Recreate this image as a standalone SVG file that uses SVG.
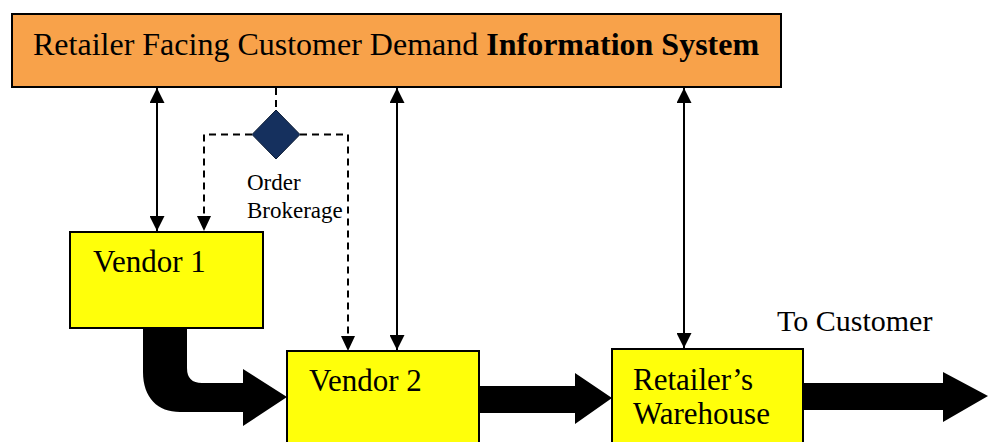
<svg xmlns="http://www.w3.org/2000/svg" width="988" height="442" viewBox="0 0 988 442">
<defs>
<style>
.box{fill:#FFFF0A;stroke:#000;stroke-width:2}
.bar{fill:#F8A24A;stroke:#000;stroke-width:2}
.t{font-family:"Liberation Serif","Times New Roman",serif;fill:#000}
.ln{stroke:#000;stroke-width:2;fill:none}
.dash{stroke:#000;stroke-width:2;fill:none;stroke-dasharray:7,5}
.thick{fill:#000}
</style>
<marker id="ah" viewBox="0 0 10 10" refX="10" refY="5" markerWidth="8" markerHeight="8" markerUnits="userSpaceOnUse" orient="auto-start-reverse">
<path d="M0,0 L10,5 L0,10 Z" fill="#000"/>
</marker>
<marker id="ahb" viewBox="0 0 10 10" refX="10" refY="5" markerWidth="15" markerHeight="15" markerUnits="userSpaceOnUse" orient="auto-start-reverse">
<path d="M0,0 L10,5 L0,10 Z" fill="#000"/>
</marker>
</defs>
<rect width="988" height="442" fill="#fff"/>
<g id="info-system">
<rect class="bar" x="12" y="14" width="769" height="73"/>
<text class="t" x="33" y="55" font-size="32">Retailer Facing Customer Demand <tspan font-weight="bold">Information System</tspan></text>
</g>
<g id="vendor1">
<rect class="box" x="70" y="232" width="193" height="96"/>
<text class="t" x="93" y="272" font-size="31">Vendor 1</text>
</g>
<g id="vendor2">
<rect class="box" x="287" y="351" width="192" height="100"/>
<text class="t" x="309" y="391" font-size="31">Vendor 2</text>
</g>
<g id="warehouse">
<rect class="box" x="612" y="349" width="191" height="102"/>
<text class="t" x="633" y="390" font-size="31">Retailer’s</text>
<text class="t" x="633" y="424" font-size="31">Warehouse</text>
</g>
<g id="order-brokerage">
<path d="M276,110 L300,134.5 L276,159 L252,134.5 Z" fill="#15305E" stroke="#0a1a33" stroke-width="1"/>
<text class="t" x="247" y="190" font-size="23">Order</text>
<text class="t" x="247" y="218" font-size="23">Brokerage</text>
</g>
<g id="to-customer-label">
<text class="t" x="777" y="331" font-size="30">To Customer</text>
</g>
<g id="connectors">
<line class="ln" x1="157" y1="88" x2="157" y2="231" marker-start="url(#ahb)" marker-end="url(#ahb)"/>
<line class="ln" x1="397" y1="88" x2="397" y2="350" marker-start="url(#ahb)" marker-end="url(#ahb)"/>
<line class="ln" x1="684" y1="88" x2="684" y2="348" marker-start="url(#ahb)" marker-end="url(#ahb)"/>
<line class="dash" x1="276" y1="88" x2="276" y2="110"/>
<path class="dash" d="M252,134.5 H204 V216"/>
<path class="dash" d="M300,134.5 H348 V336"/>
<path d="M197,216 L211,216 L204,231 Z" fill="#000"/>
<path d="M341,336 L355,336 L348,351 Z" fill="#000"/>
<path class="thick" d="M143,328 L187,328 L187,368 Q187,383 202,383 L243,383 L243,369 L287,397 L243,426 L243,412 L180,412 C158,412 143,398 143,372 Z"/>
<path class="thick" d="M479,386 L575,386 L575,373 L612,398 L575,424 L575,413 L479,413 Z"/>
<path class="thick" d="M803,383 L943,383 L943,372 L988,396 L943,422 L943,410 L803,410 Z"/>
</g>
</svg>
